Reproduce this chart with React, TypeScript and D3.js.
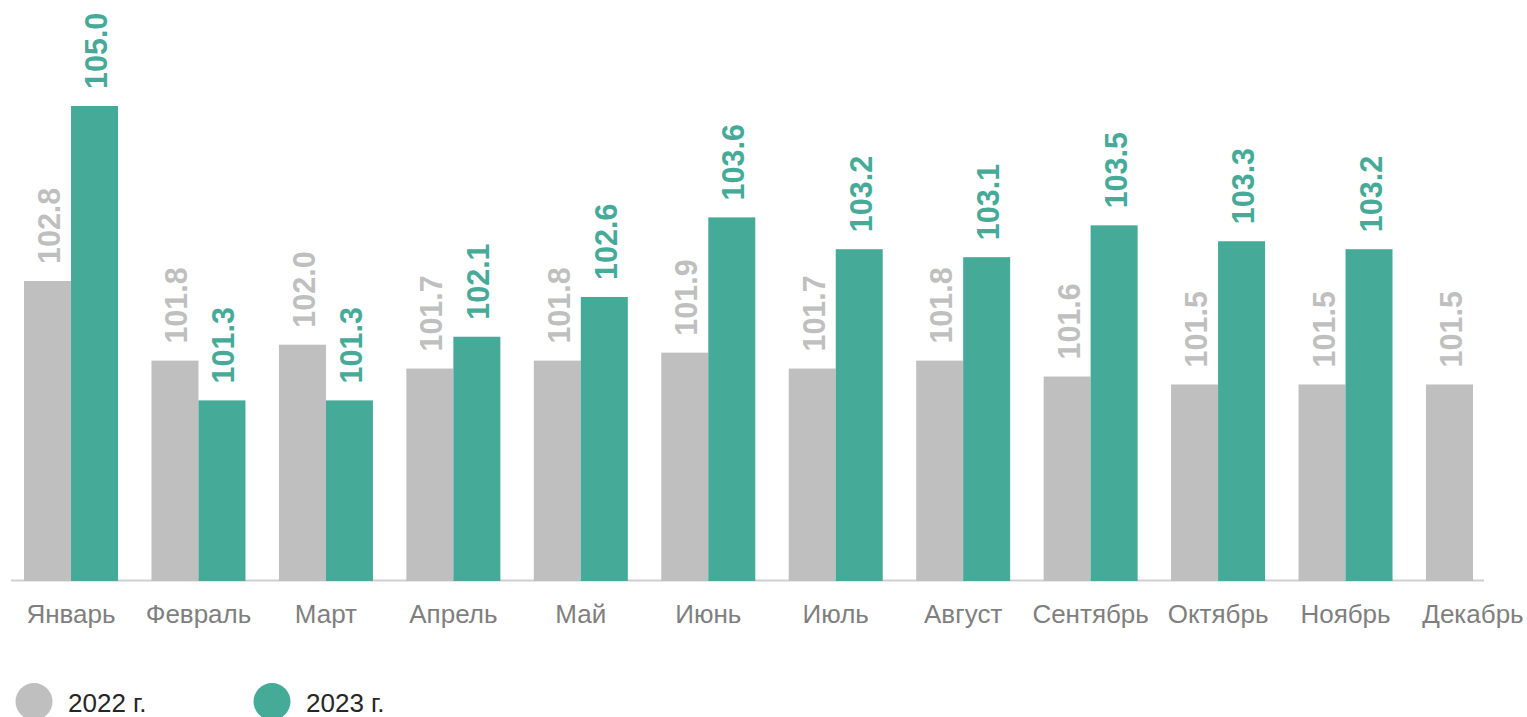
import React, { useEffect, useRef } from 'react';
import * as d3 from 'd3';

// months on the x axis
const months = ['Январь', 'Февраль', 'Март', 'Апрель', 'Май', 'Июнь', 'Июль', 'Август', 'Сентябрь', 'Октябрь', 'Ноябрь', 'Декабрь'];
// values for each year (2023 has no December yet)
const values2022 = [102.8, 101.8, 102.0, 101.7, 101.8, 101.9, 101.7, 101.8, 101.6, 101.5, 101.5, 101.5];
const values2023 = [105.0, 101.3, 101.3, 102.1, 102.6, 103.6, 103.2, 103.1, 103.5, 103.3, 103.2, null];
const seriesNames = ['2022 г.', '2023 г.'];
const seriesColors = ['#bfbfbf', '#46aa98'];

const App = () => {
  const ref = useRef<SVGSVGElement>(null);
  const svgWidth = 1527;
  const svgHeight = 717;

  useEffect(() => {
    const svg = d3.select(ref.current);
    svg.selectAll('*').remove();

    const x = d3.scaleBand<string>()
      .domain(months)
      .range([7.3, 1536.7])
      .paddingInner(0.2625)
      .paddingOuter(0.13125);

    const y = d3.scaleLinear()
      .domain([99.03, 105.0])
      .range([581, 106]);

    const barW = x.bandwidth() / 2;

    // baseline
    svg.append('line')
      .attr('x1', 11)
      .attr('x2', 1484)
      .attr('y1', 580.5)
      .attr('y2', 580.5)
      .attr('stroke', '#d0d0d0')
      .attr('stroke-width', 2);

    const series = [values2022, values2023];
    series.forEach((vals, si) => {
      const data = months.map((m, i) => ({ m, v: vals[i] })).filter(d => d.v != null) as { m: string; v: number }[];

      svg.selectAll(`rect.s${si}`)
        .data(data)
        .enter()
        .append('rect')
        .attr('class', `s${si}`)
        .attr('x', d => (x(d.m) as number) + si * barW)
        .attr('y', d => y(d.v))
        .attr('width', barW)
        .attr('height', d => y.range()[0] - y(d.v))
        .attr('fill', seriesColors[si]);

      // rotated value labels above bars
      svg.selectAll(`text.v${si}`)
        .data(data)
        .enter()
        .append('text')
        .attr('class', `v${si}`)
        .attr('transform', d => {
          const cx = (x(d.m) as number) + si * barW + barW / 2 + 1.5;
          return `translate(${cx},${y(d.v) - 17}) rotate(-90)`;
        })
        .attr('dy', '0.36em')
        .attr('font-family', '"Liberation Sans", Arial, sans-serif')
        .attr('font-weight', 'bold')
        .attr('font-size', 30.5)
        .attr('fill', seriesColors[si])
        .text(d => d.v.toFixed(1));
    });

    // month labels
    svg.selectAll('text.month')
      .data(months)
      .enter()
      .append('text')
      .attr('class', 'month')
      .attr('x', d => (x(d) as number) + x.bandwidth() / 2)
      .attr('y', 623)
      .attr('text-anchor', 'middle')
      .attr('font-family', '"Liberation Sans", Arial, sans-serif')
      .attr('font-size', 26)
      .attr('fill', '#7f7f7f')
      .text(d => d);

    // legend
    const legendX = [34, 272];
    seriesNames.forEach((name, i) => {
      svg.append('circle')
        .attr('cx', legendX[i])
        .attr('cy', 701.5)
        .attr('r', 18.5)
        .attr('fill', seriesColors[i]);
      svg.append('text')
        .attr('x', legendX[i] + 34)
        .attr('y', 712)
        .attr('font-family', '"Liberation Sans", Arial, sans-serif')
        .attr('font-size', 26)
        .attr('fill', '#262626')
        .text(name);
    });
  }, []);

  return (
    <svg
      ref={ref}
      width={svgWidth}
      height={svgHeight}
      style={{ position: 'absolute', left: 0, top: 0, background: '#fff' }}
    />
  );
};

export default App;
